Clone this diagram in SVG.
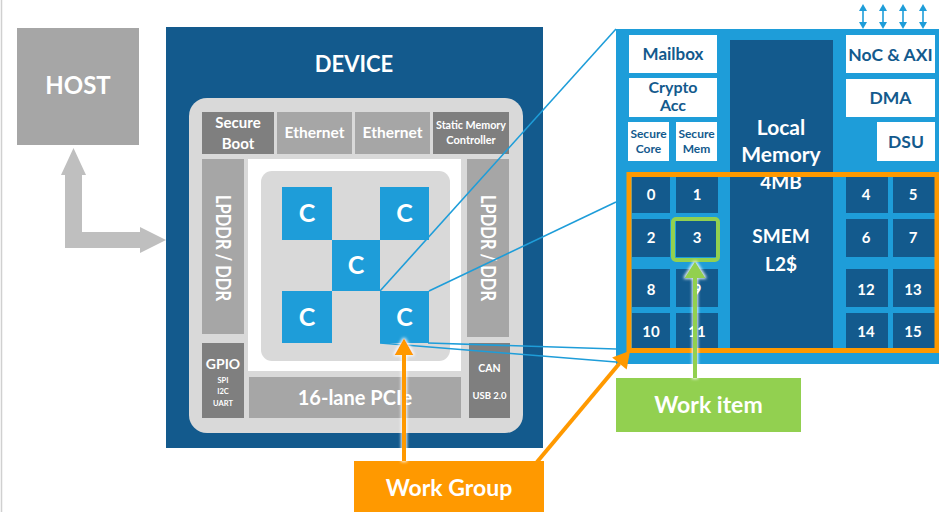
<svg xmlns="http://www.w3.org/2000/svg" width="939" height="512" viewBox="0 0 939 512">
  <style>
    text { font-family: "Lato", "Liberation Sans", sans-serif; font-weight: 700; text-anchor: middle; }
    .w { fill: #ffffff; }
    .db { fill: #135a8d; }
    .dev { fill: #135a8d; }
    .lb { fill: #1e9dd9; }
    .g1 { fill: #a6a6a6; }
    .g2 { fill: #7f7f7f; }
    .core { fill: #1e9dd9; }
    .tile { fill: #135a8d; }
    .wbox { fill: #ffffff; }
    .link { stroke: #1e9dd9; stroke-width: 1.6; fill: none; }
  </style>
  <defs>
    <marker id="headOrange" markerUnits="userSpaceOnUse" markerWidth="20" markerHeight="20" refX="0" refY="9" orient="auto" viewBox="0 0 16 18">
      <path d="M0,0.5 L15,9 L0,17.5 z" fill="#ff9900"/>
    </marker>
    <marker id="headGreen" markerUnits="userSpaceOnUse" markerWidth="20" markerHeight="22" refX="0" refY="10" orient="auto" viewBox="0 0 16 20">
      <path d="M0,0.5 L15,10 L0,19.5 z" fill="#92d050"/>
    </marker>
    <marker id="bi" markerUnits="userSpaceOnUse" markerWidth="8" markerHeight="8" refX="1" refY="4" orient="auto-start-reverse" viewBox="0 0 8 8">
      <path d="M0,0 L7,4 L0,8 z" fill="#1e9dd9"/>
    </marker>
    <filter id="halo" filterUnits="userSpaceOnUse" x="0" y="0" width="939" height="512">
      <feMorphology in="SourceAlpha" operator="dilate" radius="1.2" result="d"/>
      <feGaussianBlur in="d" stdDeviation="1.4" result="b"/>
      <feFlood flood-color="#ffffff" flood-opacity="0.9"/>
      <feComposite in2="b" operator="in" result="w"/>
      <feMerge><feMergeNode in="w"/><feMergeNode in="SourceGraphic"/></feMerge>
    </filter>
  </defs>

  <rect width="939" height="512" fill="#ffffff"/>
  <line x1="1.5" y1="0" x2="1.5" y2="512" stroke="#d0d0d0" stroke-width="1.5"/>

  <!-- host -->
  <g id="host">
    <rect x="17" y="28" width="122" height="117" class="g1"/>
    <text x="78" y="94" class="w" font-size="24">HOST</text>
  </g>

  <!-- device package -->
  <g id="device">
    <rect x="166" y="27" width="377" height="421" class="dev"/>
    <text x="354" y="72" class="w" font-size="22">DEVICE</text>
    <rect x="189" y="98" width="334" height="335" rx="18" fill="#d9d9d9"/>
    <rect x="248" y="159" width="213" height="212" fill="#ffffff"/>
    <rect x="261" y="171" width="189" height="190" rx="11" fill="#d9d9d9"/>
  </g>

  <g id="secure-boot">
    <rect x="202" y="112" width="72" height="42" class="g2"/>
    <text x="238" y="128" class="w" font-size="15">Secure</text>
    <text x="238" y="149" class="w" font-size="15">Boot</text>
  </g>
  <g id="ethernet-0">
    <rect x="277" y="112" width="75" height="42" class="g1"/>
    <text x="314.5" y="138" class="w" font-size="15.5">Ethernet</text>
  </g>
  <g id="ethernet-1">
    <rect x="355" y="112" width="75" height="42" class="g1"/>
    <text x="392.5" y="138" class="w" font-size="15.5">Ethernet</text>
  </g>
  <g id="static-memory-controller">
    <rect x="433" y="112" width="76" height="42" class="g2"/>
    <text x="471" y="129" class="w" font-size="11" textLength="70" lengthAdjust="spacingAndGlyphs">Static Memory</text>
    <text x="471" y="144" class="w" font-size="11">Controller</text>
  </g>
  <g id="lpddr-left">
    <rect x="202" y="159" width="42" height="175" class="g1"/>
    <text transform="translate(223,248) rotate(90)" x="0" y="7.5" class="w" font-size="20" textLength="106" lengthAdjust="spacingAndGlyphs">LPDDR / DDR</text>
  </g>
  <g id="lpddr-right">
    <rect x="467" y="159" width="42" height="178" class="g1"/>
    <text transform="translate(488,248) rotate(90)" x="0" y="7.5" class="w" font-size="20" textLength="106" lengthAdjust="spacingAndGlyphs">LPDDR / DDR</text>
  </g>
  <g id="gpio">
    <rect x="202" y="343" width="42" height="75" class="g2"/>
    <text x="223" y="369" class="w" font-size="14">GPIO</text>
    <text x="223" y="383" class="w" font-size="7.5">SPI</text>
    <text x="223" y="394" class="w" font-size="7.5">I2C</text>
    <text x="223" y="406" class="w" font-size="7.5">UART</text>
  </g>
  <g id="pcie">
    <rect x="249" y="377" width="212" height="41" class="g1"/>
    <text x="355" y="405" class="w" font-size="20">16-lane PCIe</text>
  </g>
  <g id="can-usb">
    <rect x="469" y="343" width="41" height="75" class="g2"/>
    <text x="489.5" y="372" class="w" font-size="10.5">CAN</text>
    <text x="489.5" y="399" class="w" font-size="9.5">USB 2.0</text>
  </g>

  <!-- compute cores -->
  <g id="core-0"><rect x="282" y="187" width="50" height="53" class="core"/><text x="307" y="222" class="w" font-size="25">C</text></g>
  <g id="core-1"><rect x="380" y="187" width="49" height="53" class="core"/><text x="404.5" y="222" class="w" font-size="25">C</text></g>
  <g id="core-2"><rect x="332" y="240" width="48" height="51" class="core"/><text x="356" y="274" class="w" font-size="25">C</text></g>
  <g id="core-3"><rect x="282" y="291" width="50" height="52" class="core"/><text x="307" y="326" class="w" font-size="25">C</text></g>
  <g id="core-4"><rect x="380" y="291" width="49" height="52" class="core"/><text x="404.5" y="326" class="w" font-size="25">C</text></g>

  <!-- zoomed core detail -->
  <g id="core-detail">
    <rect x="616" y="29" width="323" height="335" class="lb"/>
    <g id="mailbox"><rect x="629" y="35" width="88" height="38" class="wbox"/><text x="673" y="60" class="db" font-size="17">Mailbox</text></g>
    <g id="crypto-acc"><rect x="629" y="78" width="88" height="39" class="wbox"/><text x="673" y="93" class="db" font-size="16">Crypto</text><text x="673" y="111" class="db" font-size="16">Acc</text></g>
    <g id="secure-core"><rect x="628" y="122" width="41" height="39" class="wbox"/><text x="648.5" y="138" class="db" font-size="12">Secure</text><text x="648.5" y="153" class="db" font-size="12">Core</text></g>
    <g id="secure-mem"><rect x="676" y="122" width="41" height="39" class="wbox"/><text x="696.5" y="138" class="db" font-size="12">Secure</text><text x="696.5" y="153" class="db" font-size="12">Mem</text></g>
    <g id="noc-axi"><rect x="846" y="35" width="89" height="38" class="wbox"/><text x="890.5" y="61" class="db" font-size="17.5">NoC &amp; AXI</text></g>
    <g id="dma"><rect x="846" y="79" width="89" height="38" class="wbox"/><text x="890.5" y="104" class="db" font-size="17.5">DMA</text></g>
    <g id="dsu"><rect x="877" y="122" width="58" height="39" class="wbox"/><text x="906" y="148" class="db" font-size="17.5">DSU</text></g>
    <g id="local-memory">
      <rect x="730" y="40" width="103" height="308" class="tile"/>
      <text x="781" y="135" class="w" font-size="21">Local</text>
      <text x="781" y="162" class="w" font-size="21">Memory</text>
      <text x="781" y="189" class="w" font-size="19">4MB</text>
      <text x="781" y="243" class="w" font-size="19">SMEM</text>
      <text x="781" y="271" class="w" font-size="19">L2$</text>
    </g>
    <g id="lanes">
      <rect x="632" y="177" width="38" height="36" class="tile"/><text x="651" y="200" class="w" font-size="15">0</text>
      <rect x="676" y="177" width="42" height="36" class="tile"/><text x="697" y="200" class="w" font-size="15">1</text>
      <rect x="632" y="219" width="38" height="38" class="tile"/><text x="651" y="243" class="w" font-size="15">2</text>
      <rect x="676" y="219" width="42" height="38" class="tile"/><text x="697" y="243" class="w" font-size="15">3</text>
      <rect x="632" y="269" width="38" height="38" class="tile"/><text x="651" y="295" class="w" font-size="15">8</text>
      <rect x="676" y="269" width="42" height="38" class="tile"/><text x="697" y="295" class="w" font-size="15">9</text>
      <rect x="632" y="313" width="38" height="35" class="tile"/><text x="651" y="337" class="w" font-size="15">10</text>
      <rect x="676" y="313" width="42" height="35" class="tile"/><text x="697" y="337" class="w" font-size="15">11</text>
      <rect x="846" y="177" width="42" height="36" class="tile"/><text x="866" y="200" class="w" font-size="15">4</text>
      <rect x="893" y="177" width="42" height="36" class="tile"/><text x="913" y="200" class="w" font-size="15">5</text>
      <rect x="846" y="219" width="42" height="38" class="tile"/><text x="866" y="243" class="w" font-size="15">6</text>
      <rect x="893" y="219" width="42" height="38" class="tile"/><text x="913" y="243" class="w" font-size="15">7</text>
      <rect x="846" y="269" width="42" height="38" class="tile"/><text x="866" y="295" class="w" font-size="15">12</text>
      <rect x="893" y="269" width="42" height="38" class="tile"/><text x="913" y="295" class="w" font-size="15">13</text>
      <rect x="846" y="313" width="42" height="35" class="tile"/><text x="866" y="337" class="w" font-size="15">14</text>
      <rect x="893" y="313" width="42" height="35" class="tile"/><text x="913" y="337" class="w" font-size="15">15</text>
    </g>
    <!-- work-group outline and highlighted work item -->
    <rect id="work-group-frame" x="629" y="174.5" width="308" height="176" fill="none" stroke="#ff9900" stroke-width="5"/>
    <rect id="work-item-frame" x="673" y="219" width="45" height="41" rx="3" fill="none" stroke="#92d050" stroke-width="4"/>
  </g>

  <g id="work-group">
    <rect x="354" y="461" width="190" height="51" fill="#ff9900"/>
    <text x="449" y="496" class="w" font-size="23">Work Group</text>
  </g>
  <g id="work-item">
    <rect x="616" y="378" width="185" height="54" fill="#92d050"/>
    <text x="708.5" y="413" class="w" font-size="23">Work item</text>
  </g>

  <!-- connectors -->
  <g id="connectors">
    <path d="M73.5,148 L86,175 L82,175 L82,232 L140,232 L140,227 L166,240 L140,253 L140,248 L65,248 L65,175 L61,175 Z" fill="#bfbfbf"/>
    <line class="link" x1="380" y1="291" x2="616" y2="29"/>
    <line class="link" x1="429" y1="291" x2="616" y2="202"/>
    <line class="link" x1="428" y1="343" x2="616" y2="349"/>
    <line class="link" x1="380" y1="343" x2="616" y2="362"/>
    <g stroke="#1e9dd9" stroke-width="1.6">
      <line x1="863" y1="10" x2="863" y2="23" marker-start="url(#bi)" marker-end="url(#bi)"/>
      <line x1="883" y1="10" x2="883" y2="23" marker-start="url(#bi)" marker-end="url(#bi)"/>
      <line x1="903" y1="10" x2="903" y2="23" marker-start="url(#bi)" marker-end="url(#bi)"/>
      <line x1="923" y1="10" x2="923" y2="23" marker-start="url(#bi)" marker-end="url(#bi)"/>
    </g>
    <g filter="url(#halo)">
      <line x1="404" y1="461" x2="404" y2="355" stroke="#ff9900" stroke-width="4" marker-end="url(#headOrange)"/>
    </g>
    <line x1="537" y1="462" x2="619.4" y2="363.5" stroke="#ff9900" stroke-width="4" marker-end="url(#headOrange)"/>
    <g filter="url(#halo)">
      <line x1="695" y1="378" x2="695" y2="278" stroke="#92d050" stroke-width="4" marker-end="url(#headGreen)"/>
    </g>
  </g>
</svg>
